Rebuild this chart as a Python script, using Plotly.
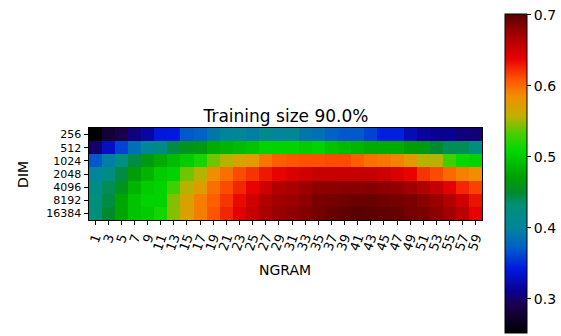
import plotly.graph_objects as go

# Heatmap of accuracy by embedding dimension and n-gram size
dims = ["256", "512", "1024", "2048", "4096", "8192", "16384"]
ngrams = [str(n) for n in range(1, 60, 2)]

acc_256 = [0.252, 0.280, 0.290, 0.305, 0.318, 0.340, 0.342, 0.370, 0.375, 0.390,
           0.400, 0.402, 0.395, 0.415, 0.400, 0.405, 0.390, 0.385, 0.375, 0.370,
           0.370, 0.360, 0.345, 0.345, 0.325, 0.315, 0.312, 0.312, 0.305, 0.303]
acc_512 = [0.300, 0.330, 0.360, 0.385, 0.405, 0.420, 0.445, 0.460, 0.465, 0.480,
           0.485, 0.490, 0.495, 0.505, 0.505, 0.505, 0.500, 0.505, 0.495, 0.490,
           0.485, 0.480, 0.480, 0.480, 0.470, 0.465, 0.450, 0.440, 0.440, 0.425]
acc_1024 = [0.370, 0.395, 0.425, 0.445, 0.465, 0.480, 0.490, 0.500, 0.515, 0.540,
            0.555, 0.570, 0.575, 0.595, 0.605, 0.608, 0.610, 0.610, 0.612, 0.612,
            0.605, 0.598, 0.595, 0.590, 0.578, 0.555, 0.555, 0.530, 0.510, 0.505]
acc_2048 = [0.400, 0.420, 0.445, 0.470, 0.485, 0.500, 0.505, 0.540, 0.555, 0.585,
            0.598, 0.612, 0.620, 0.630, 0.637, 0.645, 0.650, 0.655, 0.655, 0.655,
            0.655, 0.655, 0.652, 0.645, 0.637, 0.620, 0.612, 0.600, 0.590, 0.585]
acc_4096 = [0.420, 0.440, 0.460, 0.485, 0.500, 0.505, 0.530, 0.555, 0.575, 0.598,
            0.612, 0.625, 0.637, 0.650, 0.665, 0.668, 0.675, 0.680, 0.680, 0.682,
            0.682, 0.683, 0.680, 0.678, 0.672, 0.665, 0.655, 0.640, 0.625, 0.615]
acc_8192 = [0.430, 0.445, 0.475, 0.495, 0.505, 0.505, 0.545, 0.570, 0.592, 0.605,
            0.620, 0.635, 0.650, 0.665, 0.672, 0.675, 0.680, 0.688, 0.690, 0.692,
            0.695, 0.695, 0.693, 0.690, 0.688, 0.682, 0.675, 0.665, 0.650, 0.632]
acc_16384 = [0.430, 0.450, 0.475, 0.495, 0.500, 0.515, 0.545, 0.572, 0.592, 0.608,
             0.625, 0.640, 0.655, 0.668, 0.675, 0.680, 0.685, 0.690, 0.695, 0.698,
             0.701, 0.700, 0.698, 0.695, 0.690, 0.688, 0.680, 0.672, 0.660, 0.638]

z = [acc_256, acc_512, acc_1024, acc_2048, acc_4096, acc_8192, acc_16384]
zmin = min(min(r) for r in z)
zmax = max(max(r) for r in z)

colorscale = [
    [0.00, "#000000"],
    [0.09, "#1c0050"],
    [0.13, "#0a0090"],
    [0.20, "#0018e0"],
    [0.27, "#0060c8"],
    [0.33, "#00859a"],
    [0.40, "#009078"],
    [0.44, "#008a30"],
    [0.49, "#00a000"],
    [0.57, "#00d800"],
    [0.62, "#40d000"],
    [0.68, "#c0b000"],
    [0.74, "#f09000"],
    [0.79, "#ff5a00"],
    [0.86, "#e80000"],
    [0.93, "#a80000"],
    [1.00, "#5a0000"],
]

W, H = 561, 336
x0, x1 = 88, 484
y0, y1 = 128, 220
FONT = "DejaVu Sans"

fig = go.Figure(go.Heatmap(
    z=z, x=ngrams, y=dims,
    colorscale=colorscale, zmin=zmin, zmax=zmax,
    colorbar=dict(
        x=507 / W, xanchor="left", xpad=0, ypad=0,
        y=1 - 173.5 / H, yanchor="middle",
        len=319 / H, lenmode="fraction", thickness=22,
        outlinewidth=1, outlinecolor="black",
        tickvals=[0.3, 0.4, 0.5, 0.6, 0.7], tickformat=".1f",
        ticks="outside", ticklen=4, tickcolor="black",
        tickfont=dict(family=FONT, size=14, color="black"),
    ),
))

axis_common = dict(
    showline=True, linecolor="black", linewidth=1, mirror=True,
    ticks="outside", ticklen=4, tickcolor="black",
    showgrid=False, zeroline=False, type="category", tickmode="array",
)

fig.update_layout(
    width=W, height=H,
    margin=dict(l=0, r=0, t=0, b=0),
    paper_bgcolor="white", plot_bgcolor="white",
    xaxis=dict(domain=[x0 / W, x1 / W], tickangle=-70,
               tickvals=ngrams, ticktext=ngrams,
               tickfont=dict(family=FONT, size=13, color="black"), **axis_common),
    yaxis=dict(domain=[1 - y1 / H, 1 - y0 / H], autorange="reversed",
               tickvals=dims, ticktext=dims,
               tickfont=dict(family=FONT, size=11, color="black"), **axis_common),
    title=dict(text="Training size 90.0%", x=(x0 + x1) / 2 / W, xanchor="center",
               y=1 - 116 / H, yanchor="middle",
               font=dict(family=FONT, size=17, color="black")),
    annotations=[
        dict(text="NGRAM", x=(x0 + x1) / 2 / W, y=1 - 270 / H, xref="paper", yref="paper",
             showarrow=False, xanchor="center", yanchor="middle",
             font=dict(family=FONT, size=14, color="black")),
        dict(text="DIM", x=22 / W, y=1 - 174 / H, xref="paper", yref="paper",
             showarrow=False, xanchor="center", yanchor="middle", textangle=-90,
             font=dict(family=FONT, size=14, color="black")),
    ],
)

fig.write_html("out.html")
